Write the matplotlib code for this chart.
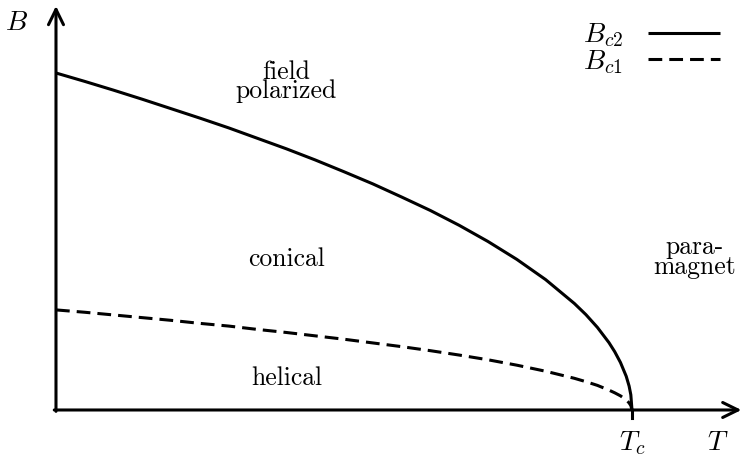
import numpy as np
import matplotlib.pyplot as plt

plt.rcParams['mathtext.fontset'] = 'cm'
plt.rcParams['font.family'] = 'cmr10'
plt.rcParams['axes.formatter.use_mathtext'] = True

# temperature in units of Tc, fields in units of Bc2(0)
T = [0.0, 0.05, 0.1, 0.15, 0.2, 0.25, 0.3, 0.35, 0.4, 0.45, 0.5, 0.55, 0.6,
     0.65, 0.7, 0.75, 0.8, 0.85, 0.9, 0.92, 0.94, 0.96, 0.97, 0.98, 0.99,
     0.995, 0.998, 1.0]
Bc2 = [1.0, 0.975, 0.949, 0.922, 0.894, 0.866, 0.837, 0.806, 0.775, 0.742,
       0.707, 0.671, 0.632, 0.592, 0.548, 0.5, 0.447, 0.387, 0.316, 0.283,
       0.245, 0.2, 0.173, 0.141, 0.1, 0.071, 0.045, 0.0]
Bc1 = [0.297, 0.290, 0.282, 0.274, 0.266, 0.257, 0.249, 0.239, 0.230, 0.220,
       0.210, 0.199, 0.188, 0.176, 0.163, 0.149, 0.133, 0.115, 0.094, 0.084,
       0.073, 0.059, 0.051, 0.042, 0.030, 0.021, 0.013, 0.0]
Tc = 1.0

fs = 18.5   # roman labels
mfs = 20    # math labels
lw = 2.2

fig = plt.figure(figsize=(7.42, 4.57), dpi=100)
ax = fig.add_axes([0, 0, 1, 1])
ax.set_xlim(-0.0972, 1.191)
ax.set_ylim(-0.1395, 1.2166)
ax.axis('off')

ax.plot(T, Bc2, color='black', lw=lw, label=r'$B_{c2}$', solid_capstyle='butt')
ax.plot(T, Bc1, color='black', lw=lw, dashes=(4.5, 2.3), label=r'$B_{c1}$')

# axes with arrow heads
arrow = dict(arrowstyle='->,head_length=0.55,head_width=0.27', lw=lw,
             color='black', shrinkA=0, shrinkB=0, mutation_scale=20)
ax.annotate('', xy=(1.19, 0), xytext=(-0.003, 0), arrowprops=arrow)
ax.annotate('', xy=(0, 1.199), xytext=(0, -0.004), arrowprops=arrow)

# tick at Tc
ax.plot([Tc, Tc], [0, -0.024], color='black', lw=lw)

ax.text(Tc, -0.119, r'$T_c$', fontsize=mfs, ha='center', va='baseline')
ax.text(1.149, -0.119, r'$T$', fontsize=mfs, ha='center', va='baseline')
ax.text(-0.069, 1.128, r'$B$', fontsize=mfs, ha='center', va='baseline')

ax.text(0.4, 0.925, 'field\npolarized', fontsize=fs, ha='center',
        va='baseline', linespacing=0.78, multialignment='center')
ax.text(0.4, 0.427, 'conical', fontsize=fs, ha='center', va='baseline')
ax.text(0.4, 0.074, 'helical', fontsize=fs, ha='center', va='baseline')
ax.text(1.109, 0.404, 'para-\nmagnet', fontsize=fs, ha='center',
        va='baseline', linespacing=0.78, multialignment='center')

ax.legend(loc='upper right', bbox_to_anchor=(0.997, 0.995), frameon=False,
          markerfirst=False, fontsize=mfs, handlelength=2.6, handletextpad=0.9,
          labelspacing=-0.05, borderpad=0.2)

fig.savefig('out.png', dpi=100)
